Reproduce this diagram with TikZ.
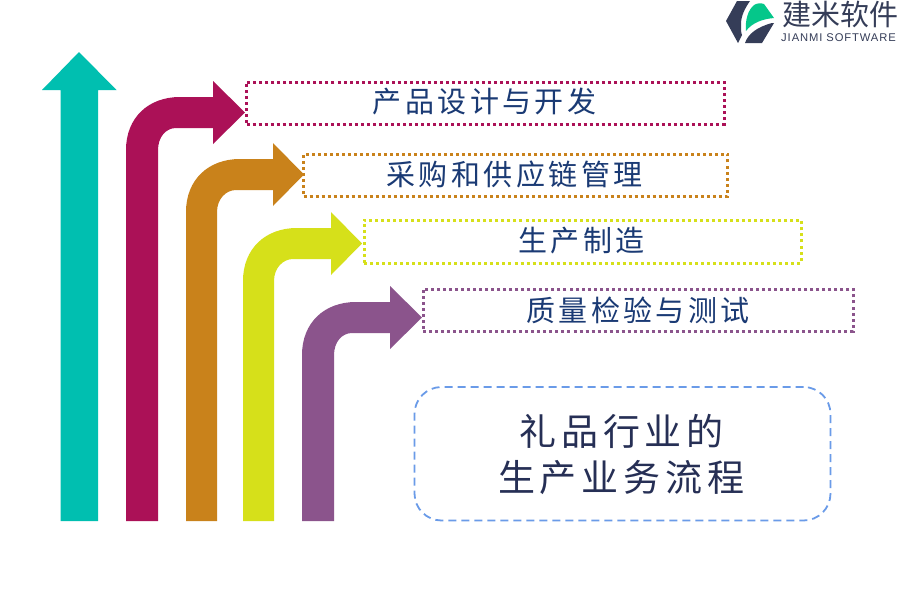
\documentclass[tikz,border=0pt]{standalone}
\usepackage{fontspec}
\newfontfamily\cjklab[LetterSpace=12]{Noto Sans CJK SC}
\newfontfamily\cjktitle[LetterSpace=13.5]{Noto Sans CJK SC}
\newfontfamily\cjklogo{Noto Sans CJK SC}
\newfontfamily\latinlogo[LetterSpace=8]{Liberation Sans}
\definecolor{cteal}{HTML}{00BFB0}
\definecolor{ccrim}{HTML}{AB1157}
\definecolor{corange}{HTML}{C9821B}
\definecolor{cyellow}{HTML}{D6E01A}
\definecolor{cpurple}{HTML}{8B548C}
\definecolor{ctext}{HTML}{1A3A74}
\definecolor{ctitle}{HTML}{262F55}
\definecolor{cdash}{HTML}{6A9BE8}
\definecolor{clogod}{HTML}{353D58}
\definecolor{clogog}{HTML}{05C78A}
\tikzset{
 lab/.style={font=\cjklab\fontsize{29}{32}\selectfont,text=ctext,anchor=center,inner sep=0pt},
 labbox/.style={draw=#1,line width=3pt,dash pattern=on 3pt off 3.02pt,inner sep=0pt},
 ttl/.style={font=\cjktitle\fontsize{37}{46}\selectfont,text=ctitle,align=center,inner sep=0pt},
}
% bent arrow: colour, left x, right x, band top y, head base x, tip x
\newcommand{\bentarrow}[6]{%
 \fill[#1] (#2,521) -- (#2,{#4+53}) .. controls (#2,{#4+21}) and ({#2+22},#4) .. ({#2+54},#4)
  -- (#5,#4) -- (#5,{#4-16}) -- (#6,{#4+15.5}) -- (#5,{#4+47}) -- (#5,{#4+31}) -- ({#2+50},{#4+31})
  .. controls ({#2+40},{#4+31}) and (#3,{#4+40}) .. (#3,{#4+53}) -- (#3,521) -- cycle;}
\begin{document}
\begin{tikzpicture}[x=1pt,y=-1pt]
\useasboundingbox (0,0) rectangle (900,600);
\fill[white] (0,0) rectangle (900,600);
% teal arrow
\fill[cteal] (60.5,521) -- (60.5,90) -- (42,90) -- (79,52) -- (116.5,90) -- (98,90) -- (98,521) -- cycle;
\bentarrow{ccrim}{126}{158}{97}{213}{245}
\bentarrow{corange}{186}{217}{159}{273}{304}
\bentarrow{cyellow}{243}{274}{228}{331}{362}
\bentarrow{cpurple}{302}{334}{302}{390}{422}
% label boxes
\node[labbox=ccrim,minimum width=477.5pt,minimum height=42pt] (b1) at (485.25,103) {};
\node[labbox=corange,minimum width=424pt,minimum height=42pt] (b2) at (515.5,175) {};
\node[labbox=cyellow,minimum width=437pt,minimum height=43pt] (b3) at (582.5,241.5) {};
\node[labbox=cpurple,minimum width=430pt,minimum height=42pt] (b4) at (638,310) {};
\node[lab] (t1) at (484.5,102) {产品设计与开发};
\node[lab] (t2) at (514.5,174) {采购和供应链管理};
\node[lab] (t3) at (581.5,241) {生产制造};
\node[lab] (t4) at (638,310) {质量检验与测试};
% title box
\node[draw=cdash,line width=1.8pt,dash pattern=on 8pt off 5pt,rounded corners=27pt,minimum width=416pt,minimum height=133.5pt,inner sep=0pt] (tb) at (622.5,453.75) {};
\node[ttl] (title) at (621.5,454) {礼品行业的\\生产业务流程};
% logo
\fill[clogod] (737,1) -- (750,1) .. controls (745,8) and (741,16) .. (741,24) .. controls (741,30) and (741,33) .. (742,35) -- (738,43) -- (726,21) -- cycle;
\fill[clogod] (745,43) .. controls (748,34) and (757,27) .. (772,23) -- (774,23) -- (762,43) -- cycle;
\fill[clogog] (746,31) .. controls (745,20) and (748,10) .. (754,5) .. controls (757,3) and (761,3) .. (764,4) -- (774,18) .. controls (762,19) and (752,23) .. (746,31) -- cycle;
\node[font=\cjklogo\fontsize{29}{29}\selectfont,text=clogod,inner sep=0pt] (logocn) at (840,14) {建米软件};
\node[font=\latinlogo\fontsize{11.2}{11.2}\selectfont,text=clogod,inner sep=0pt] (logoen) at (838.5,38) {JIANMI SOFTWARE};
\end{tikzpicture}
\end{document}
